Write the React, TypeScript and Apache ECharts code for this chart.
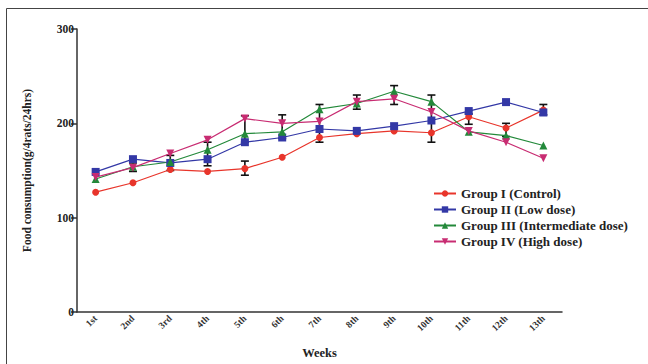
import React, { useEffect, useRef } from "react";
import * as echarts from "echarts";

const weeks = ["1st", "2nd", "3rd", "4th", "5th", "6th", "7th", "8th", "9th", "10th", "11th", "12th", "13th"];
const groupI = [127, 137, 151, 149, 152, 164, 185, 189, 192, 190, 207, 195, 214];
const groupII = [148.5, 162, 158, 162, 180, 185, 194, 192, 197, 203, 213, 222.5, 211.5];
const groupIII = [141, 154, 159, 172, 189, 191, 215, 221, 234, 223, 191, 187, 176.5];
const groupIV = [143, 153, 168, 182.5, 205, 200, 202, 223, 226, 212, 192, 180, 163];
// [week index, low, high]
const errorBars: [number, number, number][] = [
  [1, 149, 158],
  [2, 150, 166],
  [3, 155, 180],
  [4, 145, 160],
  [4, 180, 208],
  [5, 184, 209],
  [6, 180, 220],
  [7, 215, 230],
  [8, 220, 240],
  [9, 180, 230],
  [10, 199, 210],
  [11, 186, 200],
  [12, 209, 220],
];
const yTicks = [0, 100, 200, 300];

const FONT = "Liberation Serif";

export default function App() {
  const ref = useRef<HTMLDivElement>(null);
  useEffect(() => {
    document.body.style.margin = "0";
    const chart = echarts.init(ref.current!, null, { renderer: "svg" });
    const mk = (name: string, data: number[], color: string, symbol: string, size: number, rotate = 0) => ({
      name,
      type: "line",
      data,
      symbol,
      symbolSize: size,
      symbolRotate: rotate,
      itemStyle: { color },
      lineStyle: { color, width: 1.2 },
      z: 3,
    });
    chart.setOption({
      animation: false,
      backgroundColor: "#ffffff",
      textStyle: { fontFamily: FONT },
      grid: { left: 77, right: 86, top: 29, bottom: 52, containLabel: false },
      graphic: [
        { type: "line", shape: { x1: 6.5, y1: 8.5, x2: 648, y2: 8.5 }, style: { stroke: "#444", lineWidth: 1 } },
        { type: "line", shape: { x1: 6.5, y1: 8.5, x2: 6.5, y2: 364 }, style: { stroke: "#444", lineWidth: 1 } },
      ],
      legend: {
        orient: "vertical",
        left: 428,
        top: 182,
        itemGap: 3,
        itemWidth: 22,
        itemHeight: 8,
        textStyle: { fontFamily: FONT, fontWeight: "bold", fontSize: 13, color: "#222" },
        data: ["Group I (Control)", "Group II (Low dose)", "Group III (Intermediate dose)", "Group IV (High dose)"],
      },
      xAxis: {
        type: "category",
        data: weeks,
        boundaryGap: true,
        name: "Weeks",
        nameLocation: "middle",
        nameGap: 34,
        nameTextStyle: { fontFamily: FONT, fontWeight: "bold", fontSize: 12.5, color: "#222" },
        axisLine: { lineStyle: { color: "#333", width: 1.5 } },
        axisTick: { alignWithLabel: true, length: 4, lineStyle: { color: "#333", width: 1.5 } },
        axisLabel: { rotate: 45, fontFamily: FONT, fontWeight: "bold", fontSize: 9.5, color: "#333", margin: 5 },
        splitLine: { show: false },
      },
      yAxis: {
        type: "value",
        min: yTicks[0],
        max: yTicks[yTicks.length - 1],
        interval: 100,
        name: "Food consumption(g/4rats/24hrs)",
        nameLocation: "middle",
        nameGap: 44,
        nameTextStyle: { fontFamily: FONT, fontWeight: "bold", fontSize: 11.5, color: "#222" },
        axisLine: { show: true, lineStyle: { color: "#333", width: 1.5 } },
        axisTick: { show: true, length: 6, lineStyle: { color: "#333", width: 1.5 } },
        axisLabel: { fontFamily: FONT, fontWeight: "bold", fontSize: 11.5, color: "#222", margin: 3 },
        splitLine: { show: false },
      },
      series: [
        {
          type: "custom",
          name: "err",
          data: errorBars,
          z: 2,
          renderItem: (params: any, api: any) => {
            const x = api.value(0);
            const lo = api.coord([x, api.value(1)]);
            const hi = api.coord([x, api.value(2)]);
            const w = 4;
            const style = { stroke: "#111", lineWidth: 1.6 };
            return {
              type: "group",
              children: [
                { type: "line", shape: { x1: lo[0], y1: lo[1], x2: hi[0], y2: hi[1] }, style },
                { type: "line", shape: { x1: lo[0] - w, y1: lo[1], x2: lo[0] + w, y2: lo[1] }, style },
                { type: "line", shape: { x1: hi[0] - w, y1: hi[1], x2: hi[0] + w, y2: hi[1] }, style },
              ],
            };
          },
        },
        mk("Group I (Control)", groupI, "#e8352b", "circle", 7),
        mk("Group II (Low dose)", groupII, "#3338a6", "rect", 8),
        mk("Group III (Intermediate dose)", groupIII, "#23893a", "triangle", 8),
        mk("Group IV (High dose)", groupIV, "#c82c72", "triangle", 8, 180),
      ],
    });
    return () => chart.dispose();
  }, []);
  return <div ref={ref} style={{ width: 648, height: 364 }} />;
}
